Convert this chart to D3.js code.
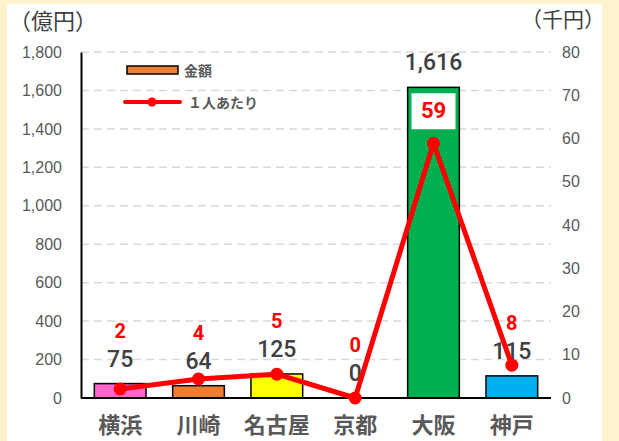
<!DOCTYPE html>
<html><head><meta charset="utf-8">
<script src="https://cdn.jsdelivr.net/npm/d3@7"></script>
<style>
html,body{margin:0;padding:0;background:#fff2cc;}
svg{display:block;}
</style></head>
<body>
<svg id="c" width="619" height="441"></svg>
<script>
const categories = ["横浜","川崎","名古屋","京都","大阪","神戸"];
const amounts = [75, 64, 125, 0, 1616, 115];          // 億円
const perPerson = [2.1, 4.4, 5.5, 0.0, 58.9, 7.6];     // 千円
const perPersonLabels = ["2","4","5","0","59","8"];
const barColors = ["#ff66cc","#ed7d31","#ffff00","#ffffff","#00b050","#00b0f0"];
const leftTicks = [0,200,400,600,800,1000,1200,1400,1600,1800];
const rightTicks = [0,10,20,30,40,50,60,70,80];

const svg = d3.select("#c");
const L = 81, R = 551, T = 52, B = 398;
const font = "'Liberation Sans', Arial, 'Noto Sans CJK JP', sans-serif";
const numFont = "Roboto, 'Liberation Sans', Arial, sans-serif";
const jp = "'Noto Sans CJK JP', sans-serif";

svg.append("rect").attr("x",7).attr("y",4).attr("width",595).attr("height",437).attr("fill","#ffffff");

const x = d3.scaleBand().domain(categories).range([L,R]).paddingInner(0.34).paddingOuter(0.17);
const yL = d3.scaleLinear().domain([0,1800]).range([B,T]);
const yR = d3.scaleLinear().domain([0,80]).range([B,T]);

// gridlines
svg.append("g").selectAll("line").data(leftTicks.filter(d=>d>0)).join("line")
  .attr("x1",L).attr("x2",R).attr("y1",d=>yL(d)).attr("y2",d=>yL(d))
  .attr("stroke","#d9d9d9").attr("stroke-width",1.5).attr("stroke-dasharray","8,5");

// left axis
const axL = svg.append("g").attr("transform",`translate(${L},0)`)
  .call(d3.axisLeft(yL).tickValues(leftTicks).tickSize(0).tickPadding(19).tickFormat(d3.format(",")));
axL.select(".domain").attr("stroke","#000").attr("stroke-width",2);
axL.selectAll("text").attr("font-family",font).attr("font-size",16).attr("fill","#595959");

// right axis
const axR = svg.append("g").attr("transform",`translate(${R},0)`)
  .call(d3.axisRight(yR).tickValues(rightTicks).tickSize(0).tickPadding(11));
axR.select(".domain").remove();
axR.selectAll("text").attr("font-family",font).attr("font-size",16).attr("fill","#595959");

// bars
svg.append("g").selectAll("rect").data(amounts).join("rect")
  .attr("x",(d,i)=>x(categories[i])).attr("width",x.bandwidth())
  .attr("y",d=>yL(d)).attr("height",d=>B-yL(d))
  .attr("fill",(d,i)=>barColors[i]).attr("stroke","#000").attr("stroke-width",d=>d>0?1.5:0);

// baseline
svg.append("line").attr("x1",L).attr("x2",R).attr("y1",B).attr("y2",B).attr("stroke","#000").attr("stroke-width",2);

// bar labels
svg.append("g").selectAll("text").data(amounts).join("text")
  .attr("x",(d,i)=>x(categories[i])+x.bandwidth()/2).attr("y",d=>yL(d)-17)
  .attr("text-anchor","middle").attr("font-family",numFont).attr("font-size",23).attr("font-weight",500).attr("fill","#404040")
  .text(d=>d3.format(",")(d));

// line
const cx = i => x(categories[i])+x.bandwidth()/2;
svg.append("path").datum(perPerson)
  .attr("d",d3.line().x((d,i)=>cx(i)).y(d=>yR(d)))
  .attr("fill","none").attr("stroke","#ff0000").attr("stroke-width",5).attr("stroke-linejoin","round");
svg.append("g").selectAll("circle").data(perPerson).join("circle")
  .attr("cx",(d,i)=>cx(i)).attr("cy",d=>yR(d)).attr("r",6.5).attr("fill","#ff0000");

// line labels
const lab = svg.append("g");
perPerson.forEach((v,i)=>{
  const tall = amounts[i] > 1000;
  const yy = tall ? yR(v) - 25 : yL(amounts[i]) - 46;
  if (tall) {
    lab.append("rect").attr("x",cx(i)-22).attr("y",yy-25).attr("width",44).attr("height",36).attr("fill","#fff");
  }
  lab.append("text").attr("x",cx(i)).attr("y",yy).attr("text-anchor","middle")
    .attr("font-family",numFont).attr("font-size",tall?22:20).attr("font-weight",700).attr("fill","#ff0000")
    .text(perPersonLabels[i]);
});

// category labels
svg.append("g").selectAll("text").data(categories).join("text")
  .attr("x",d=>x(d)+x.bandwidth()/2).attr("y",433)
  .attr("text-anchor","middle").attr("font-family",jp).attr("font-size",22).attr("font-weight","bold").attr("fill","#595959")
  .text(d=>d);

// axis titles
svg.append("text").attr("x",9).attr("y",29).attr("font-family",jp).attr("font-size",22).attr("fill","#404040").text("（億円）");
svg.append("text").attr("x",605).attr("y",27).attr("text-anchor","end").attr("font-family",jp).attr("font-size",21).attr("fill","#404040").text("（千円）");

// legend
const lg = svg.append("g");
lg.append("rect").attr("x",127).attr("y",66).attr("width",51).attr("height",8).attr("fill","#ed7d31").attr("stroke","#000").attr("stroke-width",1.5);
lg.append("text").attr("x",184).attr("y",76).attr("font-family",jp).attr("font-size",14).attr("font-weight","bold").attr("fill","#595959").text("金額");
lg.append("line").attr("x1",125).attr("x2",180).attr("y1",102).attr("y2",102).attr("stroke","#ff0000").attr("stroke-width",4).attr("stroke-linecap","round");
lg.append("circle").attr("cx",152).attr("cy",102).attr("r",4.5).attr("fill","#ff0000");
lg.append("text").attr("x",188).attr("y",108).attr("font-family",jp).attr("font-size",14).attr("font-weight","bold").attr("fill","#595959").text("１人あたり");
</script>
</body></html>
